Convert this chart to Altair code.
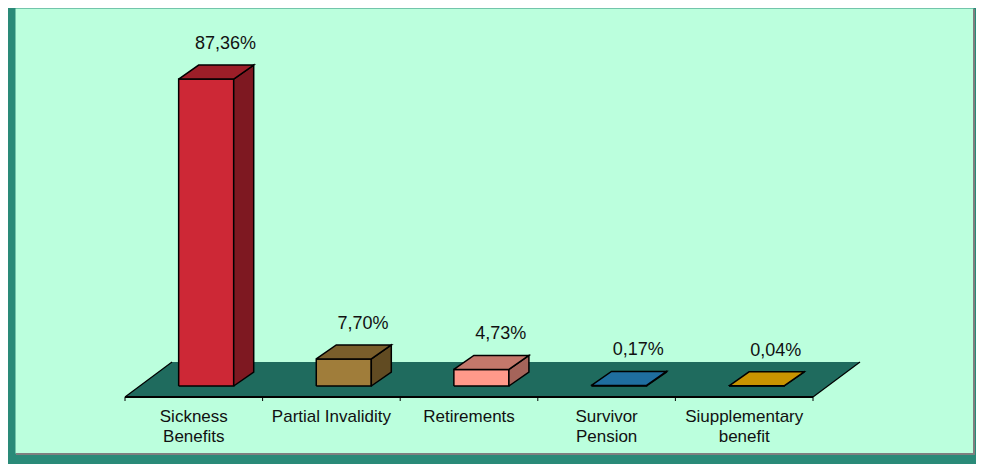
import altair as alt
import pandas as pd

# ---------------- data ----------------
categories = ["Sickness\nBenefits", "Partial Invalidity", "Retirements",
              "Survivor\nPension", "Siupplementary\nbenefit"]
values = [87.36, 7.70, 4.73, 0.17, 0.04]
front_colors = ["#cd2836", "#a07d3a", "#ff998a", "#2a7fb5", "#e0a800"]
top_colors = ["#9c1e28", "#7a5e2b", "#c4786b", "#1f6e9f", "#c89400"]
side_colors = ["#7e1821", "#614b22", "#a5645a", "#185a82", "#a07800"]

# ---------------- layout constants ----------------
PX_PER_CAT = 137.6      # pixels per category slot
PX_PER_PCT = 3.514      # pixels per percent
AXIS_LEFT_PAGE = 125    # page x of axis start
BASE_PAGE = 386         # page y of the bars' front base
VIEW_LEFT_PAGE = 15
VIEW_TOP_PAGE = 8
W, H = 958, 445

BAR_OFF, BAR_W = 0.09, 0.4
DX, DY = 20 / PX_PER_CAT, 14 / PX_PER_PCT            # bar depth
FLOOR_FRONT, FLOOR_BACK = -11 / PX_PER_PCT, 24 / PX_PER_PCT
FLOOR_DX = 47 / PX_PER_CAT
TICK_LEN = 4 / PX_PER_PCT

xmin = -0.5 - (AXIS_LEFT_PAGE - VIEW_LEFT_PAGE) / PX_PER_CAT
xmax = xmin + W / PX_PER_CAT
ymax = (BASE_PAGE - VIEW_TOP_PAGE) / PX_PER_PCT
ymin = ymax - H / PX_PER_PCT
xs = alt.Scale(domain=[xmin, xmax], nice=False, zero=False)
ys = alt.Scale(domain=[ymin, ymax], nice=False, zero=False)
n = len(values)

# ---------------- build polygon tables ----------------
rows = []
for i, v in enumerate(values):
    x0 = i + BAR_OFF - BAR_W / 2
    x1 = x0 + BAR_W
    faces = {
        "front": ([(x0, 0), (x1, 0), (x1, v), (x0, v)], front_colors[i]),
        "side": ([(x1, 0), (x1 + DX, DY), (x1 + DX, v + DY), (x1, v)], side_colors[i]),
        "top": ([(x0, v), (x1, v), (x1 + DX, v + DY), (x0 + DX, v + DY)], top_colors[i]),
    }
    for face, (pts, col) in faces.items():
        pts = pts + [pts[0]]
        for k, (px, py) in enumerate(pts):
            rows.append({"id": f"{i}-{face}", "face": face, "k": k, "x": px, "y": py, "col": col})
bars = pd.DataFrame(rows)

floor_pts = [(-0.5, FLOOR_FRONT), (n - 0.5, FLOOR_FRONT),
             (n - 0.5 + FLOOR_DX, FLOOR_BACK), (-0.5 + FLOOR_DX, FLOOR_BACK)]
floor = pd.DataFrame([{"k": k, "x": p[0], "y": p[1]} for k, p in enumerate(floor_pts + [floor_pts[0]])])
floor_edges = pd.DataFrame([
    {"id": "l", "k": 0, "x": -0.5 + FLOOR_DX, "y": FLOOR_BACK},
    {"id": "l", "k": 1, "x": -0.5, "y": FLOOR_FRONT},
    {"id": "r", "k": 0, "x": n - 0.5 + FLOOR_DX, "y": FLOOR_BACK},
    {"id": "r", "k": 1, "x": n - 0.5, "y": FLOOR_FRONT},
])
axis_line = pd.DataFrame([{"x": -0.5, "x2": n - 0.5, "y": FLOOR_FRONT}])
ticks = pd.DataFrame([{"x": i - 0.5, "y": FLOOR_FRONT, "y2": FLOOR_FRONT - TICK_LEN} for i in range(n + 1)])
labels = pd.DataFrame([{"x": i + 0.23, "y": v + 10.0,
                        "t": f"{v:.2f}%".replace(".", ",")} for i, v in enumerate(values)])
cats = pd.DataFrame([{"x": i, "y": -(409 - BASE_PAGE) / PX_PER_PCT, "t": c} for i, c in enumerate(categories)])

X = lambda f="x": alt.X(f"{f}:Q", scale=xs, axis=None)
Y = lambda f="y": alt.Y(f"{f}:Q", scale=ys, axis=None)

floor_layer = alt.Chart(floor).mark_line(fill="#1f6b5e", strokeWidth=0).encode(
    x=X(), y=Y(), order="k:Q")
edge_layer = alt.Chart(floor_edges).mark_line(color="#000000", strokeWidth=1.2).encode(
    x=X(), y=Y(), order="k:Q", detail="id:N")
axis_layer = alt.Chart(axis_line).mark_rule(color="#000000", strokeWidth=2).encode(
    x=X(), x2="x2:Q", y=Y())
tick_layer = alt.Chart(ticks).mark_rule(color="#000000", strokeWidth=1).encode(
    x=X(), y=Y(), y2="y2:Q")

def face_layer(face):
    return alt.Chart(bars).transform_filter(alt.datum.face == face).mark_line(
        stroke="#000000", strokeWidth=1.5, strokeJoin="miter").encode(
        x=X(), y=Y(), order="k:Q", detail="id:N",
        fill=alt.Fill("col:N", scale=None))

label_layer = alt.Chart(labels).mark_text(
    font="Liberation Sans", fontSize=18, color="#111111", baseline="middle", align="center").encode(
    x=X(), y=Y(), text="t:N")
cat_layer = alt.Chart(cats).mark_text(
    font="Liberation Sans", fontSize=17, color="#111111", baseline="top", align="center",
    lineBreak="\n", lineHeight=20).encode(x=X(), y=Y(), text="t:N")

shadow_r = alt.Chart(axis_line).mark_rule(color="#7f7f7f", strokeWidth=2).encode(
    x=alt.value(W + 1), y=alt.value(1), y2=alt.value(H + 2))
shadow_b = alt.Chart(axis_line).mark_rule(color="#7f7f7f", strokeWidth=2).encode(
    x=alt.value(1), x2=alt.value(W + 2), y=alt.value(H + 1))

chart = alt.layer(
    floor_layer, edge_layer, axis_layer, tick_layer,
    face_layer("front"), face_layer("side"), face_layer("top"),
    label_layer, cat_layer, shadow_r, shadow_b,
).properties(
    width=W, height=H,
    autosize=alt.AutoSizeParams(type="none"),
    padding={"left": 7, "top": 0, "right": 3, "bottom": 11},
    background="#2a8a78",
).configure_view(fill="#bbffdd", stroke="transparent")

chart.save("out.html", embed_options={"renderer": "svg", "actions": False})
